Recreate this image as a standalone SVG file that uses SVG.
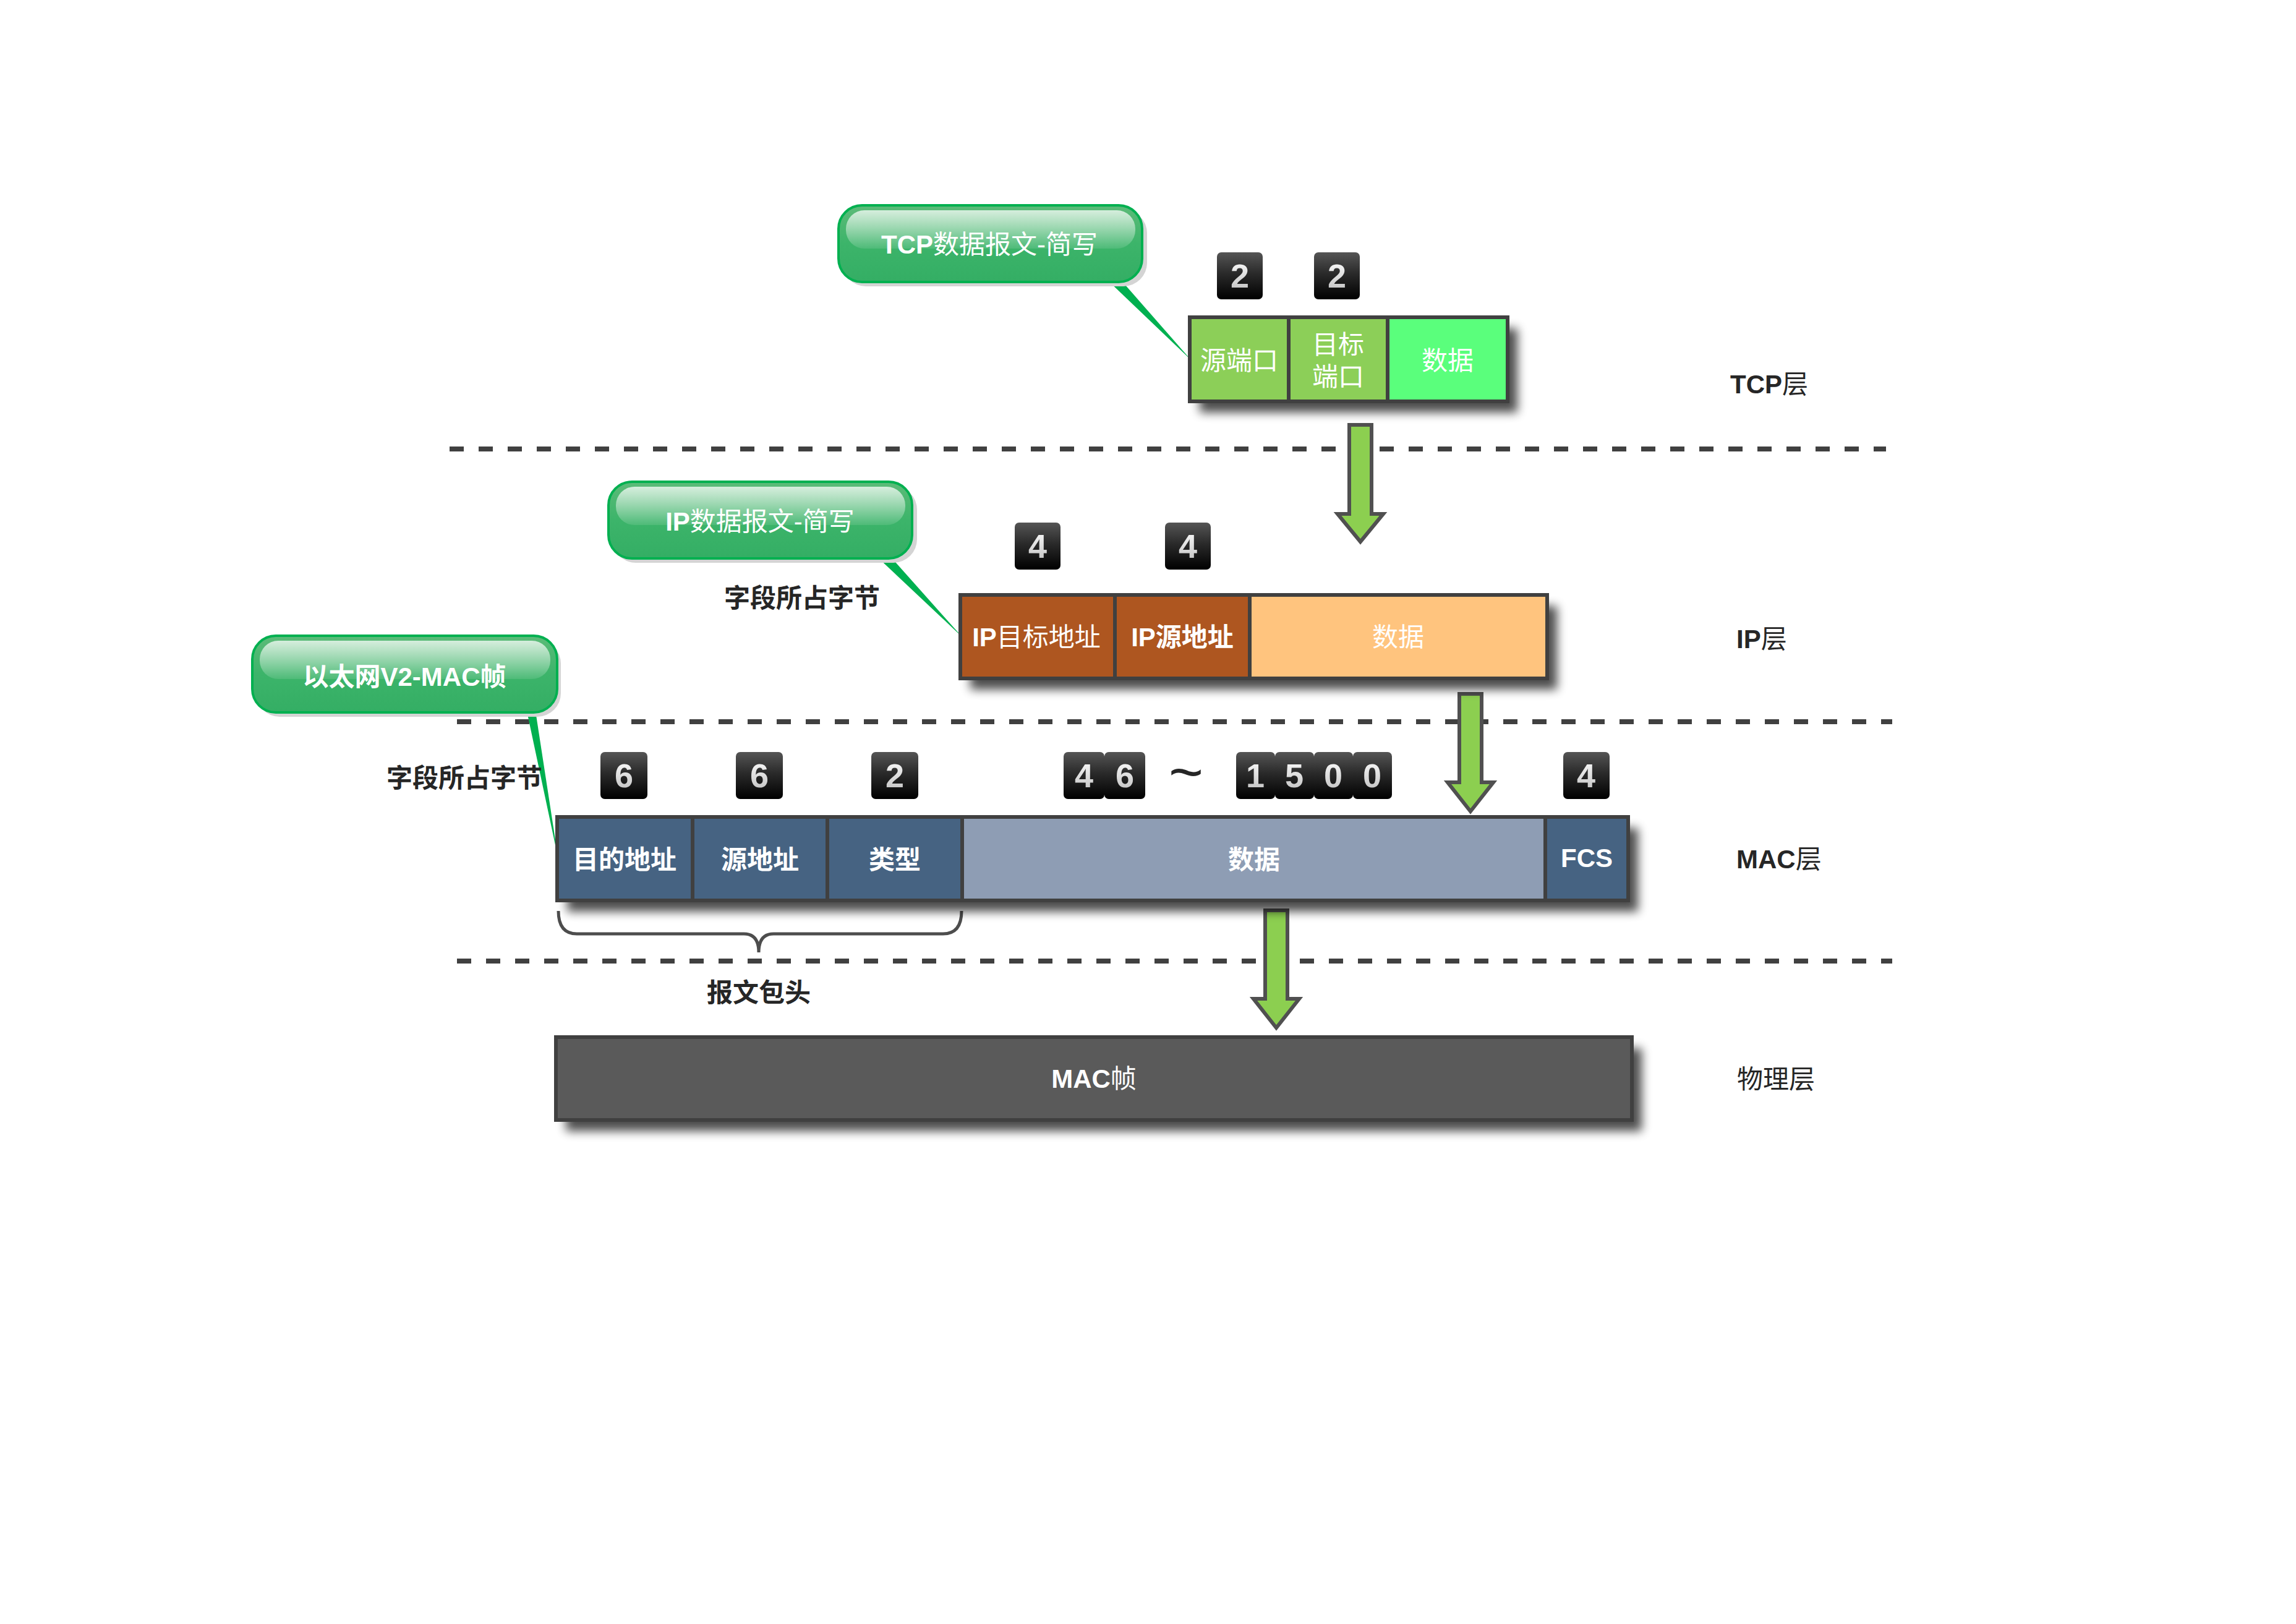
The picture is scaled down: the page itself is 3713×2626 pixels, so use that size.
<svg xmlns="http://www.w3.org/2000/svg" width="3713" height="2626" viewBox="0 0 3713 2626">
<defs>
<style>
.sep{stroke:#404040;stroke-width:8;stroke-dasharray:23 24;fill:none}
.cellborder{stroke:#404040;stroke-width:6}
.div{stroke:#404040;stroke-width:6}
.lbl{font-family:"Liberation Sans","Noto Sans CJK SC",sans-serif;font-size:42px;fill:#262626}
.b{font-weight:bold}
.wt{font-family:"Liberation Sans","Noto Sans CJK SC",sans-serif;font-size:42px;fill:#ffffff;text-anchor:middle}
.ct{font-family:"Liberation Sans","Noto Sans CJK SC",sans-serif;font-size:42px;fill:#ffffff;text-anchor:middle}
.badge{fill:url(#bg)}
.num{font-family:"Liberation Sans","DejaVu Sans",sans-serif;font-size:54px;font-weight:bold;fill:url(#ng);text-anchor:middle}
.arrow{fill:#8ccf50;stroke:#505050;stroke-width:6;stroke-linejoin:miter}
.ptr{fill:#00b050}
.callout{fill:url(#cg);stroke:#00b050;stroke-width:4}
.cshadow{fill:#d4d4d4}
.gloss{fill:url(#gg)}
.brace{fill:none;stroke:#4d4d4d;stroke-width:5}
.tilde{font-family:"Liberation Sans",sans-serif;font-size:96px;fill:#262626;text-anchor:middle}
</style>
<linearGradient id="bg" x1="0" y1="0" x2="0" y2="1">
<stop offset="0" stop-color="#555555"/>
<stop offset="0.45" stop-color="#2a2a2a"/>
<stop offset="1" stop-color="#000000"/>
</linearGradient>
<linearGradient id="ng" x1="0" y1="0" x2="0" y2="1">
<stop offset="0" stop-color="#ffffff"/>
<stop offset="1" stop-color="#bdbdbd"/>
</linearGradient>
<linearGradient id="cg" x1="0" y1="0" x2="0" y2="1">
<stop offset="0" stop-color="#5cbb78"/>
<stop offset="0.5" stop-color="#3cb46a"/>
<stop offset="1" stop-color="#34ae64"/>
</linearGradient>
<linearGradient id="gg" x1="0" y1="0" x2="0" y2="1">
<stop offset="0" stop-color="#ffffff" stop-opacity="0.75"/>
<stop offset="1" stop-color="#ffffff" stop-opacity="0.1"/>
</linearGradient>
<filter id="sh" x="-5%" y="-20%" width="115%" height="170%">
<feGaussianBlur in="SourceAlpha" stdDeviation="8" result="bl"/>
<feOffset in="bl" dx="16" dy="18" result="of"/>
<feComponentTransfer in="of" result="sc"><feFuncA type="linear" slope="0.7"/></feComponentTransfer>
<feMerge><feMergeNode in="sc"/><feMergeNode in="SourceGraphic"/></feMerge>
</filter>
</defs>
<rect width="3713" height="2626" fill="#ffffff"/>

<g id="separators">
<line class="sep" x1="727" y1="726" x2="3050" y2="726"/>
<line class="sep" x1="739" y1="1167" x2="3060" y2="1167"/>
<line class="sep" x1="739" y1="1554" x2="3060" y2="1554"/>
</g>

<g id="connectors">
<polygon class="ptr" points="1790,452 1812,452 1926,582"/>
<polygon class="ptr" points="1418,900 1440,900 1556,1030"/>
<polygon class="ptr" points="852,1150 866,1150 903,1390"/>
<path class="arrow" d="M2182,687 L2218,687 L2218,831 L2237,831 L2200,876 L2163,831 L2182,831 Z"/>
<path class="arrow" d="M2360,1122 L2396,1122 L2396,1265 L2415,1265 L2378,1312 L2341,1265 L2360,1265 Z"/>
<path class="arrow" d="M2046,1472 L2082,1472 L2082,1615 L2101,1615 L2064,1662 L2027,1615 L2046,1615 Z"/>
<path class="brace" d="M903,1473 Q903,1510 933,1510 L1203,1510 Q1227,1510 1227,1540 Q1227,1510 1251,1510 L1525,1510 Q1555,1510 1555,1473"/>
</g>

<g id="callout-tcp">
<rect class="cshadow" x="1362" y="339" width="493" height="124" rx="38"/>
<rect class="callout" x="1356" y="332" width="491" height="124" rx="38"/>
<rect class="gloss" x="1368" y="340" width="468" height="62" rx="30"/>
<text class="ct" x="1600" y="410"><tspan class="b">TCP</tspan>数据报文-简写</text>
</g>

<g id="callout-ip">
<rect class="cshadow" x="990" y="786" width="493" height="124" rx="38"/>
<rect class="callout" x="984" y="779" width="491" height="124" rx="38"/>
<rect class="gloss" x="996" y="787" width="468" height="62" rx="30"/>
<text class="ct" x="1229" y="858"><tspan class="b">IP</tspan>数据报文-简写</text>
</g>

<g id="callout-mac">
<rect class="cshadow" x="414" y="1035" width="493" height="124" rx="38"/>
<rect class="callout" x="408" y="1028" width="493" height="124" rx="38"/>
<rect class="gloss" x="420" y="1036" width="470" height="62" rx="30"/>
<text class="ct b" x="654" y="1109">以太网V2-MAC帧</text>
</g>

<g id="tcp-badges">
<rect class="badge" x="1968" y="408" width="74" height="76" rx="7"/>
<text class="num" x="2005" y="465">2</text>
<rect class="badge" x="2125" y="408" width="74" height="76" rx="7"/>
<text class="num" x="2162" y="465">2</text>
</g>

<g id="tcp-frame">
<rect x="1924" y="513" width="514" height="136" fill="#8ccf58" filter="url(#sh)"/>
<rect x="1924" y="513" width="160" height="136" fill="#8ccf58"/>
<rect x="2084" y="513" width="160" height="136" fill="#8ccf58"/>
<rect x="2244" y="513" width="194" height="136" fill="#5aff7c"/>
<rect x="1924" y="513" width="514" height="136" fill="none" class="cellborder"/>
<line class="div" x1="2084" y1="513" x2="2084" y2="649"/>
<line class="div" x1="2244" y1="513" x2="2244" y2="649"/>
<text class="wt" x="2004" y="598">源端口</text>
<text class="wt" x="2164" y="572">目标</text>
<text class="wt" x="2164" y="624">端口</text>
<text class="wt" x="2341" y="598">数据</text>
</g>

<g id="ip-badges">
<rect class="badge" x="1641" y="845" width="74" height="76" rx="7"/>
<text class="num" x="1678" y="902">4</text>
<rect class="badge" x="1884" y="845" width="74" height="76" rx="7"/>
<text class="num" x="1921" y="902">4</text>
</g>

<text id="ip-bytes-label" class="lbl b" x="1171" y="982">字段所占字节</text>

<g id="ip-frame">
<rect x="1553" y="962" width="949" height="135" fill="#ae5620" filter="url(#sh)"/>
<rect x="1553" y="962" width="250" height="135" fill="#ae5620"/>
<rect x="1803" y="962" width="218" height="135" fill="#ae5620"/>
<rect x="2021" y="962" width="481" height="135" fill="#ffc47e"/>
<rect x="1553" y="962" width="949" height="135" fill="none" class="cellborder"/>
<line class="div" x1="1803" y1="962" x2="1803" y2="1097"/>
<line class="div" x1="2021" y1="962" x2="2021" y2="1097"/>
<text class="wt" x="1676" y="1045"><tspan class="b">IP</tspan>目标地址</text>
<text class="wt b" x="1912" y="1045">IP源地址</text>
<text class="wt" x="2261" y="1045">数据</text>
</g>

<g id="mac-badges">
<rect class="badge" x="971" y="1216" width="76" height="76" rx="7"/>
<text class="num" x="1009" y="1273">6</text>
<rect class="badge" x="1190" y="1216" width="76" height="76" rx="7"/>
<text class="num" x="1228" y="1273">6</text>
<rect class="badge" x="1409" y="1216" width="76" height="76" rx="7"/>
<text class="num" x="1447" y="1273">2</text>
<rect class="badge" x="1720" y="1216" width="66" height="76" rx="7"/>
<text class="num" x="1753" y="1273">4</text>
<rect class="badge" x="1786" y="1216" width="66" height="76" rx="7"/>
<text class="num" x="1819" y="1273">6</text>
<text class="tilde" x="1918" y="1281">~</text>
<rect class="badge" x="1999" y="1216" width="63" height="76" rx="7"/>
<text class="num" x="2030" y="1273">1</text>
<rect class="badge" x="2062" y="1216" width="63" height="76" rx="7"/>
<text class="num" x="2093" y="1273">5</text>
<rect class="badge" x="2125" y="1216" width="63" height="76" rx="7"/>
<text class="num" x="2156" y="1273">0</text>
<rect class="badge" x="2188" y="1216" width="63" height="76" rx="7"/>
<text class="num" x="2219" y="1273">0</text>
<rect class="badge" x="2528" y="1216" width="75" height="76" rx="7"/>
<text class="num" x="2565" y="1273">4</text>
</g>

<text id="mac-bytes-label" class="lbl b" x="625" y="1273">字段所占字节</text>

<g id="mac-frame">
<rect x="901" y="1321" width="1732" height="135" fill="#466382" filter="url(#sh)"/>
<rect x="901" y="1321" width="655" height="135" fill="#466382"/>
<rect x="1556" y="1321" width="943" height="135" fill="#8e9db4"/>
<rect x="2499" y="1321" width="134" height="135" fill="#466382"/>
<rect x="901" y="1321" width="1732" height="135" fill="none" class="cellborder"/>
<line class="div" x1="1120" y1="1321" x2="1120" y2="1456"/>
<line class="div" x1="1338" y1="1321" x2="1338" y2="1456"/>
<line class="div" x1="1556" y1="1321" x2="1556" y2="1456"/>
<line class="div" x1="2499" y1="1321" x2="2499" y2="1456"/>
<text class="wt b" x="1010" y="1405">目的地址</text>
<text class="wt b" x="1229" y="1405">源地址</text>
<text class="wt b" x="1447" y="1405">类型</text>
<text class="wt b" x="2028" y="1405">数据</text>
<text class="wt b" x="2566" y="1402">FCS</text>
</g>

<text id="header-label" class="lbl b" x="1143" y="1620">报文包头</text>

<g id="physical-frame">
<rect x="899" y="1677" width="1740" height="134" fill="#5a5a5a" filter="url(#sh)"/>
<rect x="899" y="1677" width="1740" height="134" fill="none" class="cellborder"/>
<text class="wt" x="1769" y="1759"><tspan class="b">MAC</tspan>帧</text>
</g>

<g id="layer-labels">
<text class="lbl" x="2798" y="636"><tspan class="b">TCP</tspan>层</text>
<text class="lbl" x="2808" y="1048"><tspan class="b">IP</tspan>层</text>
<text class="lbl" x="2808" y="1404"><tspan class="b">MAC</tspan>层</text>
<text class="lbl" x="2809" y="1760">物理层</text>
</g>
</svg>
